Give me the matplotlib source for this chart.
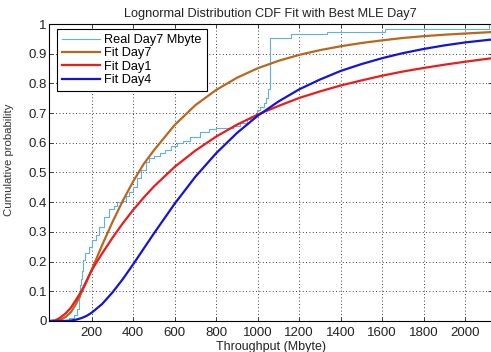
import matplotlib

matplotlib.use("Agg")
import matplotlib.pyplot as plt

real_x = [-5, 60, 90, 115, 130, 140, 145, 150, 155, 160, 170, 187, 203, 219, 235, 259,
          284, 308, 324, 348, 365, 380, 400, 420, 440, 460, 475, 500, 530, 555, 580,
          610, 640, 675, 720, 765, 800, 880, 915, 950, 970, 995, 1010, 1028, 1040,
          1050, 1058, 1160, 1335, 1615, 2113, 2140]
real_y = [0.0, 0.003, 0.01, 0.02, 0.04, 0.08, 0.12, 0.14, 0.17, 0.205, 0.23, 0.25,
          0.273, 0.29, 0.318, 0.351, 0.376, 0.387, 0.402, 0.405, 0.42, 0.435, 0.45,
          0.48, 0.51, 0.535, 0.55, 0.555, 0.565, 0.575, 0.59, 0.60, 0.607, 0.62,
          0.635, 0.645, 0.65, 0.655, 0.668, 0.68, 0.69, 0.71, 0.72, 0.735, 0.75,
          0.78, 0.952, 0.966, 0.973, 0.982, 1.0, 1.0]

# fitted lognormal CDFs
fit_x = [0, 25, 50, 75, 100, 125, 150, 175, 200, 250, 300, 350, 400, 450, 500, 600,
         700, 800, 900, 1000, 1100, 1200, 1300, 1400, 1500, 1600, 1700, 1800, 1900,
         2000, 2130]
fit_day7 = [0.0, 0.0005, 0.004, 0.014, 0.03, 0.058, 0.095, 0.132, 0.172, 0.255,
            0.333, 0.405, 0.47, 0.528, 0.575, 0.66, 0.727, 0.778, 0.819, 0.851, 0.876,
            0.896, 0.912, 0.925, 0.936, 0.945, 0.953, 0.959, 0.964, 0.968, 0.973]
fit_day1 = [0.0, 0.002, 0.012, 0.026, 0.045, 0.072, 0.10, 0.135, 0.171, 0.227,
            0.28, 0.329, 0.374, 0.415, 0.453, 0.519, 0.574, 0.621, 0.661, 0.695,
            0.724, 0.751, 0.773, 0.793, 0.81, 0.826, 0.84, 0.852, 0.863, 0.873, 0.885]
fit_day4 = [0.0, 0.0, 0.0, 0.0003, 0.0016, 0.0045, 0.0096, 0.017, 0.028, 0.057,
            0.096, 0.141, 0.191, 0.243, 0.295, 0.395, 0.486, 0.565, 0.633, 0.691,
            0.739, 0.78, 0.813, 0.842, 0.865, 0.885, 0.902, 0.916, 0.928, 0.938, 0.948]

x_ticks = [200, 400, 600, 800, 1000, 1200, 1400, 1600, 1800, 2000]
y_ticks = [0, 0.1, 0.2, 0.3, 0.4, 0.5, 0.6, 0.7, 0.8, 0.9, 1]
y_tick_labels = ["0", "0.1", "0.2", "0.3", "0.4", "0.5", "0.6", "0.7", "0.8", "0.9", "1"]

plt.rcParams["font.family"] = ["Liberation Sans", "DejaVu Sans"]

fig = plt.figure(figsize=(4.91, 3.52), dpi=100)
ax = fig.add_axes([0.1004, 0.0881, 0.902, 0.8437])

ax.plot(real_x, real_y, drawstyle="steps-post", color="#5db1e8", lw=0.8,
        label="Real Day7 Mbyte")
ax.plot(fit_x, fit_day7, color="#b8671f", lw=1.6, label="Fit Day7")
ax.plot(fit_x, fit_day1, color="#ea1c1c", lw=1.6, label="Fit Day1")
ax.plot(fit_x, fit_day4, color="#1414d8", lw=1.6, label="Fit Day4")

ax.set_xlim(-4.3, 2130)
ax.set_ylim(0, 1)
ax.set_xticks(x_ticks)
ax.set_yticks(y_ticks)
ax.set_yticklabels(y_tick_labels)
ax.tick_params(direction="in", length=3, width=0.6, top=True, right=True,
               labelsize=9.5, colors="#222222")
ax.tick_params(axis="y", pad=2)
ax.tick_params(axis="x", pad=4)
ax.grid(True, linestyle=(0, (1, 3)), color="black", lw=0.6)
for s in ax.spines.values():
    s.set_linewidth(0.8)

ax.set_title("Lognormal Distribution CDF Fit with Best MLE Day7", fontsize=9.2,
             pad=5, color="#222222")
ax.set_xlabel("Throughput (Mbyte)", fontsize=9, labelpad=2, color="#222222")
ax.set_ylabel("Cumulative probability", fontsize=8.2, color="#333333")
ax.yaxis.set_label_coords(-0.079, 0.542)

leg = ax.legend(loc="upper left", bbox_to_anchor=(0.0168, 0.983), fontsize=9.2,
                fancybox=False, framealpha=1, edgecolor="black", borderpad=0.4,
                labelspacing=0.1, handlelength=3.0, handletextpad=0.3,
                borderaxespad=0)
leg.get_frame().set_linewidth(0.8)

fig.savefig("out.png", dpi=100)
